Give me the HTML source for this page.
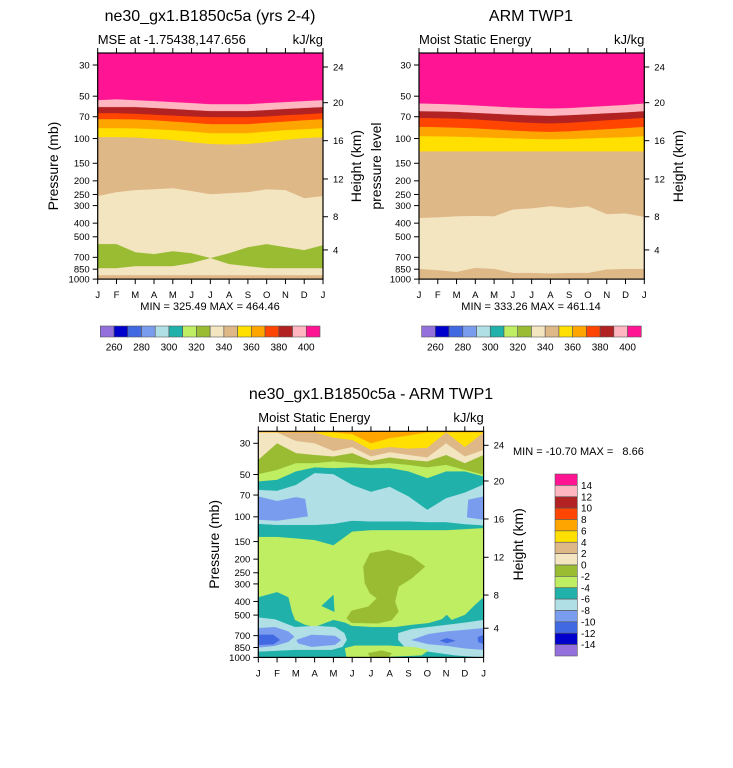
<!DOCTYPE html>
<html><head><meta charset="utf-8"><style>
html,body{margin:0;padding:0;background:#fff;}
svg{display:block;font-family:"Liberation Sans",sans-serif;}
</style></head><body>
<svg id="chart" width="733" height="768" viewBox="0 0 733 768" xmlns="http://www.w3.org/2000/svg"></svg>
<script>
const months=['J','F','M','A','M','J','J','A','S','O','N','D','J'];
const pressureTicks=[30,50,70,100,150,200,250,300,400,500,700,850,1000];
const heightTicks=[4,8,12,16,20,24];
const heightTickP=[620,360,194,103.6,55.6,31];
const mseLabels=[260,280,300,320,340,360,380,400];
const diffLabels=[14,12,10,8,6,4,2,0,-2,-4,-6,-8,-10,-12,-14];
const modelMin=325.49, modelMax=464.46, armMin=333.26, armMax=461.14, diffMin=-10.70, diffMax=8.66;

const mDeeppinkBot=[53.2,52.4,53.2,54,54.9,55.8,56.8,56.8,56.8,55.8,54.9,54,53.2];
const mPinkBot=[59.6,59.6,59.6,60.5,61.5,62.6,63.6,63.6,63.6,62.6,61.5,60.5,59.6];
const mFirebrickBot=[65.8,65.8,66.5,67.5,68.5,69.5,70.3,70.3,70.3,69.5,68,67,65.8];
const mOrangeredBot=[72.6,72.6,73,74,75.5,77,78.8,78.8,78.8,77,75.5,74,72.6];
const mOrangeBot=[84.2,84.2,84.5,85.5,87,89,91.3,91.3,91.3,89,87,85.5,84.2];
const mGoldBot=[97.6,97.6,98,100,102,106,109,110,109,106,102,99,97.6];
const mBurlyBot=[256,240,232,229,225,236,248,244,240,229,232,265,256];
const mWheatBot=[562,562,641,662,631,652,707,652,591,562,591,620,572];
const mOliveBot=[833,833,807,807,807,767,707,780,807,833,833,833,833];
const mWheatLowBot=[935,935,935,935,935,935,935,935,935,935,935,935,935];

const aDeeppinkBot=[56.2,56.5,57.2,58,59,60,60.6,61,60.6,59.5,58.5,57.5,56.2];
const aPinkBot=[63.7,64,64.5,65.5,66.5,67.5,68.3,68.8,68,67,66,65,63.7];
const aFirebrickBot=[71.1,71.5,72,73,74.5,76,77.2,77.9,77,75.5,74,72.5,71.1];
const aOrangeredBot=[82.4,82.8,83.5,84.5,86,87.5,88.8,89.5,88.5,87,85.5,84,82.4];
const aOrangeBot=[96,96.3,96.8,97.5,98.5,99.5,100.5,101,100.5,99.5,98.5,97.5,96];
const aGoldBot=[123,123,123,123,123,123,123,123,123,123,123,123,123];
const aBurlyBot=[366,363,356,354,356,319,313,302,311,302,344,340,360];
const aWheatBot=[843,861,885,830,843,900,900,909,900,900,852,843,843];

const dOrangeBot=[25,25,25,25,25,25.7,29.9,27.5,26.3,25,25,25,25];
const dGoldBot=[25,25,25,25,27.3,28.3,33.3,31.8,32.6,32.2,25,31.8,25];
const dBurlyBot=[25,25,28.8,29.9,34,31.8,37.1,34.6,36.2,37.7,29.9,37.1,33.3];
const dWheatBot=[39.2,29.9,35.1,36.2,37.1,35.1,39.9,37.7,39.2,40.3,36.2,41.4,36.2];
const dOliveBot=[49.6,46.2,41.4,41.4,40.3,41.4,42.6,41.4,42.6,44.4,42.6,46.2,50.1];
const dLgreenBot=[55.8,54.4,47.4,44.4,44.9,44.4,44.9,44.9,47.4,53,47.4,47.4,51.5];
const dTeal1Bot=[64.1,65.1,59.2,48.7,49.6,59.2,66.2,61,71.4,88.9,73.5,67,58.6];
const dPblueBot=[112,114,114,114,112,106.4,107.6,107.6,107.6,108.8,108.8,112.4,114.7];
const dTeal2Bot=[138.4,138.4,142,146,159,127,124,124,124,124,124,122,120];
const dCornUpperL=[[0,71.8],[1,77.4],[2,72.6],[2.49,74.7],[2.63,99],[1,106.4],[0,104.6]];
const dCornUpperR=[[12,71.8],[11.19,75.8],[11.12,100.6],[12,104.6]];
const dOliveBlob=[[5.95,181.7],[6.93,172],[8.17,192],[8.88,226],[8.17,273.6],[7.46,314],[7.28,402],[7.46,473],[7.1,543],[6.39,572],[4.97,567],[4.71,527],[4.97,466],[5.86,436],[6.31,380],[5.95,350],[5.68,297],[5.6,226]];
const dOliveSmall=[[5.86,934],[6.57,895],[7.1,934],[6.93,1000],[5.95,1000]];
const dTealLowTop=[[0,374],[1,344],[1.6,374],[1.78,473],[1.95,543],[2.49,588],[3.02,610],[3.55,572],[4,543],[4.62,567],[4.97,598],[6.04,610],[7.28,610],[8.17,588],[9.06,572],[9.77,537],[10.04,499],[10.3,543],[11.01,499],[11.55,423],[12,374]];
const dTealWedge=[[3.37,430],[4,360],[4.05,473]];
const dPblueLowL=[[0,521],[0.89,537],[1.95,610],[3.02,598],[4.09,610],[4.58,673],[4.71,752],[4.48,839],[3.91,882],[1.95,882],[0,907]];
const dPblueLowR=[[7.46,673],[8.17,630],[9.06,610],[10.04,588],[11.01,567],[12,543],[12,1000],[10.48,964],[9.06,907],[7.82,849],[7.46,752]];
const dCornLowL=[[0,620],[0.89,610],[1.6,655],[1.92,712],[1.6,773],[0.89,826],[0,849]];
const dCornLowC=[[2.04,752],[2.84,692],[4.09,704],[4.4,752],[4.09,812],[2.84,839],[2.13,793]];
const dCornLowR=[[8.17,752],[9.06,684],[10.04,655],[11.01,638],[12,620],[12,882],[11.01,861],[10.04,826],[9.06,803]];
const dRoyalL=[[0.04,692],[0.8,692],[1.15,752],[0.8,805],[0.04,812]];
const dRoyalR1=[[9.68,760],[10.04,731],[10.48,760],[10.04,790]];
const dRoyalR2=[[11.69,720],[12,692],[12,803],[11.72,776]];
const dLgreenLow=[[4.62,861],[5.15,826],[6.93,826],[8.35,849],[9.06,890],[8.7,964],[6.04,1000],[4.71,1000]];

const C={purple:'#9370DB',mblue:'#0000CD',royal:'#4169E1',corn:'#7A9CEF',pblue:'#B0E0E6',teal:'#20B2AA',lgreen:'#C0EE63',olive:'#99BC33',wheat:'#F4E5C1',burly:'#DEB887',gold:'#FFE000',orange:'#FFA500',ored:'#FF4500',fire:'#B22222',pink:'#FFB6C1',dpink:'#FF1493'};
const palette=[C.purple,C.mblue,C.royal,C.corn,C.pblue,C.teal,C.lgreen,C.olive,C.wheat,C.burly,C.gold,C.orange,C.ored,C.fire,C.pink,C.dpink];

const svg=document.getElementById('chart');
const NS='http://www.w3.org/2000/svg';
function mk(tag,attrs,parent){const e=document.createElementNS(NS,tag);for(const k in attrs)e.setAttribute(k,attrs[k]);(parent||svg).appendChild(e);return e;}
function txt(s,x,y,size,anchor,parent,extra){const e=mk('text',Object.assign({x:x,y:y,'font-size':size,'text-anchor':anchor||'start',fill:'#000'},extra||{}),parent);e.textContent=s;return e;}

function panel(x0,y30,name){
  const W=225.3, top=y30-12, bot=y30+Math.log10(1000/30)*140.6;
  const g=mk('g',{});
  
  
  return {x0:x0,W:W,top:top,bot:bot,g:g,
    xm:m=>x0+m*W/12, yp:p=>Math.max(top,y30+Math.log10(p/30)*140.6)};
}
function fillBg(P,color,name){const r=mk('rect',{x:P.x0,y:P.top,width:P.W,height:P.bot-P.top,fill:color},P.g);
  
  }
function band(P,arr,color,name){
  let pts=[[P.x0,P.top],[P.x0+P.W,P.top]];
  for(let i=arr.length-1;i>=0;i--)pts.push([P.xm(i),P.yp(arr[i])]);
  const e=mk('polygon',{points:pts.map(q=>q[0].toFixed(1)+','+q[1].toFixed(1)).join(' '),fill:color,stroke:color,'stroke-width':0.4},P.g);
  
  
}
function blob(P,arr,color,name){
  const e=mk('polygon',{points:arr.map(q=>P.xm(q[0]).toFixed(1)+','+P.yp(q[1]).toFixed(1)).join(' '),fill:color,stroke:color,'stroke-width':0.4},P.g);
  
  
}
function axes(P,leftLabel,rightLabel,lx,rx){
  const g=P.g, x1=P.x0+P.W;
  const fr=mk('rect',{x:P.x0,y:P.top,width:P.W,height:P.bot-P.top,fill:'none',stroke:'#000','stroke-width':1.2},g);
  
  
  months.forEach((m,i)=>{
    const x=P.xm(i);
    mk('line',{x1:x,y1:P.bot,x2:x,y2:P.bot+5,stroke:'#000','stroke-width':1},g);
    mk('line',{x1:x,y1:P.top,x2:x,y2:P.top-5,stroke:'#000','stroke-width':1},g);
    const t=txt(m,x,P.bot+19,9.5,'middle',g);
    
    
  });
  pressureTicks.forEach(p=>{
    const y=P.yp(p);
    mk('line',{x1:P.x0,y1:y,x2:P.x0-5,y2:y,stroke:'#000','stroke-width':1},g);
    const t=txt(String(p),P.x0-8,y+3.4,9.5,'end',g);
    
    
  });
  heightTicks.forEach((h,i)=>{
    const y=P.yp(heightTickP[i]);
    mk('line',{x1:x1,y1:y,x2:x1+5,y2:y,stroke:'#000','stroke-width':1},g);
    const t=txt(String(h),x1+10,y+3.4,9.5,'start',g);
    
    
  });
  const cy=(P.top+P.bot)/2;
  const a=txt(leftLabel,lx,cy,14,'middle',g,{transform:'rotate(-90 '+lx+' '+cy+')'});
  
  
  const b=txt(rightLabel,rx,cy,14,'middle',g,{transform:'rotate(-90 '+rx+' '+cy+')'});
  
  
}
function hbar(x0,y0,name){
  const g=mk('g',{});
  
  
  const w=219.7/16;
  palette.forEach((c,i)=>{
    const r=mk('rect',{x:x0+i*w,y:y0,width:w,height:11,fill:c,stroke:'#555','stroke-width':0.6},g);
    
    
  });
  mseLabels.forEach((v,i)=>{
    const t=txt(String(v),x0+(1+2*i)*w,y0+24.5,10,'middle',g);
    
    
  });
}

const L=panel(97.7,65,'model-panel');
fillBg(L,C.burly,'band-burlywood-low');
band(L,mWheatLowBot,C.wheat,'band-wheat-low');
band(L,mOliveBot,C.olive,'band-olive');
band(L,mWheatBot,C.wheat,'band-wheat');
band(L,mBurlyBot,C.burly,'band-burlywood');
band(L,mGoldBot,C.gold,'band-gold');
band(L,mOrangeBot,C.orange,'band-orange');
band(L,mOrangeredBot,C.ored,'band-orangered');
band(L,mFirebrickBot,C.fire,'band-firebrick');
band(L,mPinkBot,C.pink,'band-pink');
band(L,mDeeppinkBot,C.dpink,'band-deeppink');
axes(L,'Pressure (mb)','Height (km)',58,361);
let t;
t=txt('ne30_gx1.B1850c5a (yrs 2-4)',210,21,16,'middle');


t=txt('MSE at -1.75438,147.656',97.7,44,13,'start');


t=txt('kJ/kg',323,44,13,'end');


t=txt('MIN = '+modelMin.toFixed(2)+' MAX = '+modelMax.toFixed(2),210,310,11,'middle');


hbar(100.3,326,'model-colorbar');

const R=panel(419,65,'arm-panel');
fillBg(R,C.burly,'band-burlywood-low');
band(R,aWheatBot,C.wheat,'band-wheat');
band(R,aBurlyBot,C.burly,'band-burlywood');
band(R,aGoldBot,C.gold,'band-gold');
band(R,aOrangeBot,C.orange,'band-orange');
band(R,aOrangeredBot,C.ored,'band-orangered');
band(R,aFirebrickBot,C.fire,'band-firebrick');
band(R,aPinkBot,C.pink,'band-pink');
band(R,aDeeppinkBot,C.dpink,'band-deeppink');
axes(R,'pressure level','Height (km)',381,683);
t=txt('ARM TWP1',531,21,16,'middle');


t=txt('Moist Static Energy',419,44,13,'start');


t=txt('kJ/kg',644.3,44,13,'end');


t=txt('MIN = '+armMin.toFixed(2)+' MAX = '+armMax.toFixed(2),531,310,11,'middle');


hbar(421.6,326,'arm-colorbar');

const D=panel(258.3,443.3,'difference-panel');
fillBg(D,C.lgreen,'band-lightgreen-bg');
band(D,dTeal2Bot,C.teal,'band-teal-upper2');
band(D,dPblueBot,C.pblue,'band-powderblue');
blob(D,dCornUpperL,C.corn,'blob-cornflower-left');
blob(D,dCornUpperR,C.corn,'blob-cornflower-right');
band(D,dTeal1Bot,C.teal,'band-teal-upper1');
band(D,dLgreenBot,C.lgreen,'band-lightgreen');
band(D,dOliveBot,C.olive,'band-olive');
band(D,dWheatBot,C.wheat,'band-wheat');
band(D,dBurlyBot,C.burly,'band-burlywood');
band(D,dGoldBot,C.gold,'band-gold');
band(D,dOrangeBot,C.orange,'band-orange');
blob(D,dOliveBlob,C.olive,'blob-olive-mid');
blob(D,dTealLowTop.concat([[12,1000],[0,1000]]),C.teal,'region-teal-low');
blob(D,dTealWedge,C.teal,'blob-teal-wedge');
blob(D,dPblueLowL,C.pblue,'blob-powderblue-left');
blob(D,dPblueLowR,C.pblue,'blob-powderblue-right');
blob(D,dCornLowL,C.corn,'blob-cornflower-low-left');
blob(D,dCornLowC,C.corn,'blob-cornflower-low-center');
blob(D,dCornLowR,C.corn,'blob-cornflower-low-right');
blob(D,dRoyalL,C.royal,'blob-royalblue-left');
blob(D,dRoyalR1,C.royal,'blob-royalblue-right1');
blob(D,dRoyalR2,C.royal,'blob-royalblue-right2');
blob(D,dLgreenLow,C.lgreen,'blob-lightgreen-low');
blob(D,dOliveSmall,C.olive,'blob-olive-low');
axes(D,'Pressure (mb)','Height (km)',219,523);
t=txt('ne30_gx1.B1850c5a - ARM TWP1',371,399,16,'middle');


t=txt('Moist Static Energy',258.3,422,13,'start');


t=txt('kJ/kg',483.7,422,13,'end');


t=txt('MIN = '+diffMin.toFixed(2)+' MAX =   '+diffMax.toFixed(2),513,455,11,'start',null,{style:'white-space:pre'});


const vg=mk('g',{});


const bh=(656-474)/16;
palette.slice().reverse().forEach((c,i)=>{
  const r=mk('rect',{x:555,y:474+i*bh,width:22.3,height:bh,fill:c,stroke:'#555','stroke-width':0.6},vg);
  
  
});
diffLabels.forEach((v,i)=>{
  const lt=txt(String(v),581,474+(i+1)*bh+3.5,10,'start',vg);
  
  
});
</script>
</body></html>
